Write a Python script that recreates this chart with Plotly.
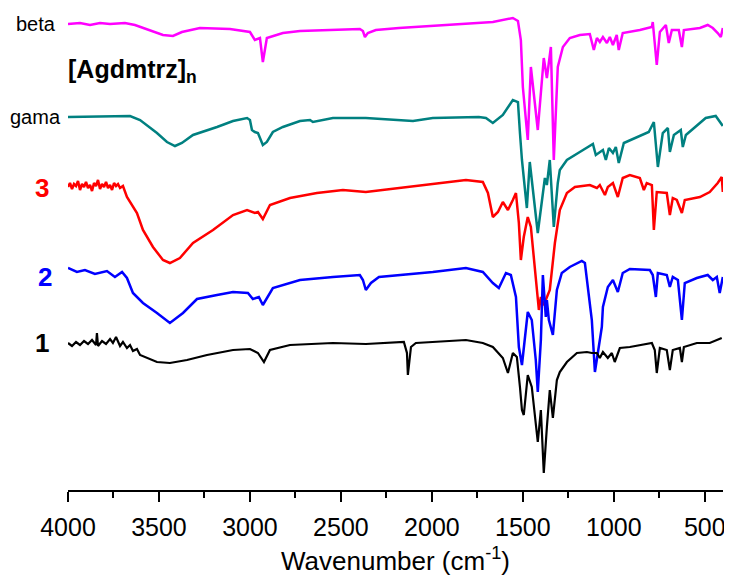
import plotly.graph_objects as go

# wavenumber (cm-1) and offset transmittance (arb. units)
beta_wn = [4000, 3934, 3879, 3824, 3769, 3687, 3632, 3549, 3478, 3423, 3374, 3275, 3110, 3000, 2973, 2945,
           2929, 2907, 2819, 2725, 2544, 2396, 2379, 2368, 2352, 2308, 2181, 1813, 1665, 1555, 1527, 1511,
           1500, 1473, 1456, 1418, 1385, 1368, 1346, 1330, 1308, 1280, 1242, 1187, 1132, 1110, 1093, 1077,
           1060, 1038, 1022, 1005, 984, 973, 951, 857, 791, 786, 764, 747, 714, 698, 681, 643, 626, 615,
           527, 484, 456, 429, 412, 401]
beta_t = [466, 467, 465, 467, 466, 467, 465, 460, 455, 454, 458, 462, 461, 458, 450, 452,
          428, 452, 457, 459, 460, 461, 459, 453, 457, 460, 462, 466, 468, 472, 469, 450,
          403, 350, 423, 360, 432, 412, 443, 330, 423, 443, 452, 455, 456, 440, 452, 448,
          453, 447, 453, 445, 455, 440, 457, 460, 463, 468, 425, 458, 465, 447, 460, 460, 443, 460,
          462, 465, 462, 457, 453, 462]

gama_wn = [4000, 3659, 3604, 3511, 3456, 3412, 3374, 3313, 3181, 3093, 3016, 3000, 2989, 2973, 2956, 2929,
           2907, 2874, 2819, 2725, 2670, 2654, 2544, 2363, 2104, 1995, 1742, 1703, 1665, 1610, 1555, 1527,
           1516, 1505, 1478, 1462, 1418, 1379, 1368, 1352, 1330, 1308, 1297, 1258, 1187, 1115, 1099, 1060,
           1044, 1027, 1005, 989, 973, 945, 808, 780, 758, 731, 703, 692, 670, 632, 621, 604, 495, 440, 401]
gama_t = [373, 374, 370, 357, 348, 344, 347, 355, 363, 369, 372, 370, 360, 358, 357, 345,
          348, 358, 363, 369, 370, 368, 372, 372, 369, 372, 373, 372, 367, 375, 390, 388,
          357, 330, 282, 328, 257, 312, 305, 330, 263, 307, 320, 330, 338, 346, 335, 340,
          330, 342, 337, 343, 327, 347, 358, 368, 323, 357, 362, 338, 355, 360, 343, 355, 372, 374, 364]

s3_wn = [4000, 3989, 3978, 3967, 3956, 3945, 3934, 3923, 3912, 3901, 3890, 3879, 3868, 3857, 3846, 3835,
         3824, 3813, 3802, 3791, 3780, 3769, 3758, 3747, 3736, 3725, 3714, 3698, 3676, 3621, 3588, 3533,
         3478, 3440, 3385, 3313, 3203, 3093, 3016, 2973, 2956, 2929, 2890, 2780, 2632, 2489, 2363, 2181,
         1813, 1720, 1692, 1665, 1637, 1610, 1582, 1555, 1538, 1522, 1511, 1495, 1473, 1456, 1429, 1412,
         1401, 1390, 1374, 1352, 1324, 1297, 1258, 1214, 1132, 1093, 1077, 1049, 1033, 1005, 978, 951,
         912, 857, 835, 819, 791, 780, 764, 709, 692, 676, 654, 626, 610, 527, 473, 429, 407, 401]
s3_t = [303, 307, 301, 306, 304, 309, 300, 306, 303, 308, 302, 305, 299, 307, 304, 310,
        301, 306, 303, 308, 302, 305, 300, 307, 304, 306, 302, 304, 293, 277, 260, 243,
        230, 227, 232, 247, 260, 275, 280, 277, 278, 271, 285, 292, 297, 300, 298, 302,
        310, 308, 297, 273, 278, 288, 280, 290, 297, 267, 230, 253, 273, 263, 210, 180,
        193, 185, 190, 200, 247, 280, 297, 303, 305, 302, 305, 295, 303, 307, 293, 312,
        315, 312, 300, 307, 305, 260, 298, 297, 275, 292, 290, 277, 290, 293, 298, 307, 313, 298]

s2_wn = [4000, 3951, 3907, 3852, 3786, 3742, 3703, 3676, 3643, 3588, 3511, 3440, 3368, 3291, 3181, 3093,
         3011, 2984, 2951, 2929, 2874, 2725, 2544, 2396, 2379, 2363, 2335, 2291, 1995, 1813, 1720, 1665,
         1632, 1593, 1566, 1538, 1522, 1505, 1473, 1451, 1429, 1418, 1401, 1390, 1374, 1368, 1357, 1335,
         1313, 1286, 1242, 1176, 1159, 1143, 1121, 1104, 1066, 1060, 1033, 1005, 978, 951, 912, 802,
         786, 769, 758, 709, 692, 676, 648, 626, 610, 544, 484, 456, 434, 418, 401]
s2_t = [222, 218, 220, 216, 219, 213, 218, 212, 197, 187, 177, 167, 177, 191, 195, 198,
        197, 191, 193, 185, 202, 210, 213, 215, 210, 200, 207, 213, 218, 222, 218, 207,
        202, 217, 215, 193, 143, 125, 178, 170, 130, 98, 150, 215, 173, 190, 170, 155,
        200, 217, 223, 229, 227, 203, 170, 118, 163, 183, 203, 210, 198, 217, 221, 220,
        215, 193, 217, 215, 203, 213, 210, 170, 207, 212, 215, 210, 213, 197, 213]

s1_wn = [4000, 3978, 3956, 3934, 3912, 3890, 3868, 3846, 3841, 3835, 3813, 3791, 3769, 3753, 3736, 3714,
         3698, 3676, 3659, 3643, 3621, 3604, 3511, 3440, 3346, 3236, 3093,
         3000, 2956, 2923, 2890, 2780, 2544, 2363, 2154, 2137, 2132, 2115, 2088, 1813, 1720, 1665, 1610,
         1582, 1555, 1533, 1516, 1505, 1495, 1478, 1473, 1451, 1434, 1418, 1401, 1385, 1368, 1352, 1335,
         1313, 1297, 1258, 1203, 1148, 1121, 1093, 1077, 1060, 1033, 1011, 995, 967, 912, 791, 775,
         764, 747, 709, 692, 676, 637, 626, 615, 544, 473, 429, 407]
s1_t = [147, 144, 148, 145, 149, 146, 150, 145, 157, 144, 149, 146, 151, 147, 153, 144,
        148, 142, 145, 139, 141, 135, 128, 127, 130, 135, 140,
        141, 137, 128, 140, 145, 147, 146, 148, 137, 115, 143, 147, 150, 147, 143, 132,
        117, 137, 133, 103, 80, 75, 103, 115, 103, 77, 48, 80, 17, 63, 100, 72,
        110, 118, 128, 137, 138, 137, 137, 132, 138, 132, 137, 128, 142, 143, 147, 140,
        117, 142, 140, 120, 140, 142, 128, 143, 147, 147, 150, 152]

series = [
    (beta_wn, beta_t, "#ff00ff", 2.5),
    (gama_wn, gama_t, "#008080", 2.5),
    (s3_wn, s3_t, "#ff0000", 2.5),
    (s2_wn, s2_t, "#0000ff", 2.5),
    (s1_wn, s1_t, "#000000", 2.2),
]

fig = go.Figure()
for wn, t, col, lw in series:
    fig.add_trace(go.Scatter(x=wn, y=t, mode="lines", line=dict(color=col, width=lw), showlegend=False))

FONT = "Arial, Liberation Sans, sans-serif"

# curve labels on the left
labels = [
    ("beta", -0.016, 466, "#000000", 20, False),
    ("gama", -0.008, 373, "#000000", 20, False),
    ("3", -0.026, 302, "#ff0000", 26, True),
    ("2", -0.022, 213, "#0000ff", 26, True),
    ("1", -0.026, 147, "#000000", 26, True),
]
for txt, xp, yv, col, size, bold in labels:
    fig.add_annotation(x=xp, y=yv, xref="paper", yref="y", text=f"<b>{txt}</b>" if bold else txt,
                       showarrow=False, xanchor="right", yanchor="middle",
                       font=dict(family=FONT, size=size, color=col))

fig.add_annotation(x=-0.003, y=419, xref="paper", yref="y", text="<b>[Agdmtrz]<sub>n</sub></b>",
                   showarrow=False, xanchor="left", yanchor="middle",
                   font=dict(family=FONT, size=25, color="#000000"))

# the page body adds an 8px offset, so the figure is sized to the visible area
fig.update_layout(
    width=724, height=572,
    margin=dict(l=60, r=9, t=0, b=90),
    plot_bgcolor="white", paper_bgcolor="white",
    font=dict(family=FONT, color="#000000"),
    xaxis=dict(
        range=[4000, 400], tick0=0, dtick=500, automargin=False,
        showgrid=False, zeroline=False,
        showline=True, linecolor="black", linewidth=2,
        ticks="outside", ticklen=10, tickwidth=2, tickcolor="black",
        ticklabelstandoff=4,
        tickfont=dict(family=FONT, size=25, color="black"),
        minor=dict(ticks="outside", ticklen=6, tickwidth=2, tickcolor="black", dtick=250, showgrid=False),
        title=dict(text="Wavenumber (cm<sup>-1</sup>)", font=dict(family=FONT, size=26, color="black"),
                   standoff=12),
    ),
    yaxis=dict(range=[0, 482], visible=False, automargin=False),
)

fig.write_html("out.html")
